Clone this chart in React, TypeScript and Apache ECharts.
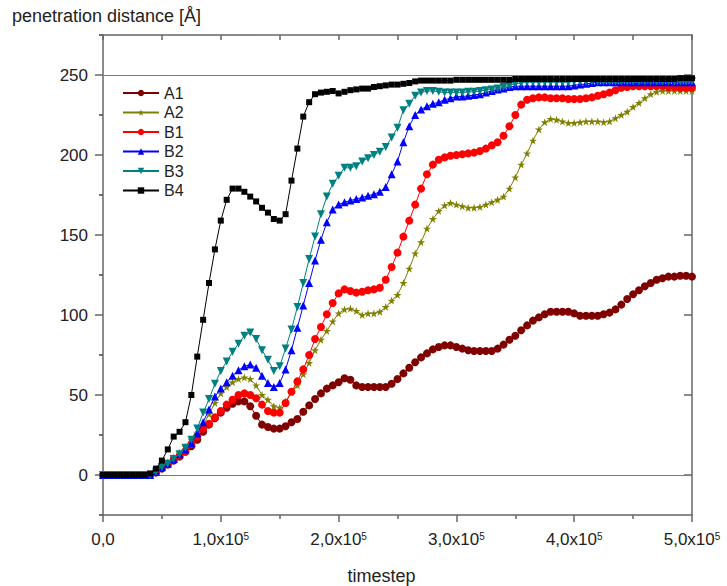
import React, { useEffect, useRef } from 'react';
import * as echarts from 'echarts';

// timestep spacing between consecutive samples (x = index * spacing)
const TIMESTEP_SPACING = 5000;

const SERIES_NAMES = ['A1', 'A2', 'B1', 'B2', 'B3', 'B4'];

const A1 = [
  0, 0, 0, 0, 0, 0, 0, 0, 0, 1.5,
  4, 6.5, 9, 11.5, 14.5, 18, 22, 27, 31.5, 35.5,
  39, 42, 44.5, 46, 46, 43, 37, 31.5, 30, 29,
  29, 30.5, 33, 35, 39.5, 43.5, 47.5, 51, 54, 56,
  58, 60.5, 59.5, 56, 55, 55, 55, 55, 55, 57,
  60, 63.5, 67, 70.5, 73.5, 76, 78.5, 80, 81, 81,
  80, 79, 78, 77.5, 77.5, 77.5, 77.5, 79, 81.5, 84.5,
  87, 90.5, 93.5, 96.5, 98.5, 100.5, 102, 102, 102, 102,
  101, 99.5, 99.5, 99.5, 99.5, 100.5, 101.5, 103.5, 106.5, 110,
  113, 115.5, 118, 120, 122, 123, 124, 124, 124.5, 124.5,
  124,
];

const A2 = [
  0, 0, 0, 0, 0, 0, 0, 0, 0, 2,
  5, 8, 11, 14, 17.5, 22, 26, 31, 38, 45,
  51, 55, 58, 60, 61, 60, 56, 50, 47, 43,
  42, 46, 52, 56, 63, 70, 78, 84.5, 90, 96,
  101, 103.5, 104, 102.5, 100, 101, 101, 102, 105, 109,
  112.5, 120, 129, 138.5, 145.5, 154, 160, 165, 168.5, 170,
  169, 168, 167, 167, 167.5, 169, 170.5, 172, 174, 179,
  186, 194, 201, 209, 216, 220.5, 222.5, 222, 221, 220,
  220, 220.5, 221, 221, 221, 220.5, 221, 223, 225, 227,
  230, 232.5, 235.5, 238, 239.5, 240, 240, 240, 240, 240,
  240,
];

const B1 = [
  0, 0, 0, 0, 0, 0, 0, 0, 0, 2,
  5, 7, 10, 12, 15, 19.5, 24, 29, 32, 36,
  40, 44, 47, 50, 51, 50, 48, 44, 40, 39,
  39, 45, 52, 58.5, 66, 75, 85, 92.5, 100.5, 107.5,
  113.5, 116, 115, 114, 114.5, 115.5, 116, 117, 122, 130,
  139, 149, 159, 169, 179, 188, 194, 197, 198.5, 199.5,
  200, 200.5, 201, 201.5, 202.5, 204, 206, 208, 212, 218,
  225, 231.5, 234.5, 235.5, 236, 236, 235.5, 235.5, 235.5, 235,
  235, 235, 235.5, 236, 237, 238, 239, 240.5, 242, 242.5,
  243, 243, 243, 243, 243, 243, 242.5, 242.5, 242, 242,
  242,
];

const B2 = [
  0, 0, 0, 0, 0, 0, 0, 0, 0, 2,
  5, 7, 10, 13, 16, 20, 26, 33, 41, 49,
  54, 58, 62, 65.5, 68, 69, 67, 62, 57.5, 55,
  57.5, 66, 78, 92, 106, 120, 134, 147, 158, 166,
  169, 170.5, 171.5, 172.5, 173.5, 174.5, 175.5, 177, 180, 188,
  196, 208, 218, 225, 228.5, 230.5, 232, 233, 234.5, 235.5,
  236.5, 236.5, 237, 237.5, 238, 239, 240, 241, 241.5, 242.5,
  243, 243, 243, 243, 243, 243, 243, 243, 243, 243,
  243.5, 244, 244.5, 245, 245.5, 245.5, 245.5, 245.5, 245.5, 245.5,
  245.5, 245.5, 245.5, 245.5, 245.5, 245.5, 245.5, 245.5, 245.5, 245.5,
  245.5,
];

const B3 = [
  0, 0, 0, 0, 0, 0, 0, 0, 0, 2,
  5, 7, 10, 13, 17, 22, 29, 39, 47.5, 57,
  65, 71, 77, 82, 87, 89, 85, 78, 72, 65,
  68, 79, 91, 105, 120, 135, 149, 163, 174, 182,
  187, 192, 192, 193, 196, 198, 200, 202, 205, 211,
  217, 228, 232, 237, 239, 240, 240, 239.5, 239, 239,
  239, 239, 239.5, 239.5, 240, 240.5, 241, 241.5, 242.5, 243.5,
  244.5, 245, 245.5, 245.5, 245.5, 245.5, 245.5, 245.5, 245.5, 245.5,
  246, 246, 246, 246, 246, 246, 246, 246, 246, 246,
  246, 246, 246, 246, 246, 246, 246, 246, 246, 246,
  246,
];

const B4 = [
  0, 0, 0, 0, 0, 0, 0, 0, 1, 4,
  9, 16, 24, 27, 33, 50, 74, 97, 120, 141,
  159, 172, 179, 179, 177, 174, 171, 167, 164, 160,
  159, 163, 184, 204, 224, 233, 238, 239, 239.5, 240,
  238.5, 239.5, 240.5, 241, 241.5, 241.5, 242.5, 243, 243.5, 244,
  244, 244.5, 245, 246, 246.5, 246.5, 246.5, 246.5, 246.5, 246.5,
  247, 247, 247, 247, 247, 247, 247, 247, 247, 247,
  247.5, 247.5, 247.5, 247.5, 247.5, 247.5, 247.5, 247.5, 247.5, 247.5,
  247.5, 247.5, 247.5, 247.5, 247.5, 247.5, 247.5, 247.5, 247.5, 247.5,
  247.5, 247.5, 247.5, 247.5, 247.5, 247.5, 247.5, 247.5, 248, 248,
  248,
];

const SERIES_VALUES = [A1, A2, B1, B2, B3, B4];

// axis ticks / labels
const X_TICK_VALUES = [0, 100000, 200000, 300000, 400000, 500000];
const X_TICK_MANTISSA = ['0,0', '1,0', '2,0', '3,0', '4,0', '5,0'];
const Y_MAJOR_TICKS = [0, 50, 100, 150, 200, 250];
const Y_MINOR_TICKS = [-25, 25, 75, 125, 175, 225, 275];
const REFERENCE_LINES = [0, 250];

const COLORS = ['#800000', '#808000', '#ff0000', '#0000ff', '#008080', '#000000'];
const STAR = 'path://M50,0 L61.8,35.1 98.6,35.1 68.8,56.8 79.4,91.9 50,70 20.6,91.9 31.2,56.8 1.4,35.1 38.2,35.1 Z';
const DOWN_TRIANGLE = 'path://M0,0 L10,0 L5,9 Z';
const SYMBOLS = ['circle', STAR, 'circle', 'triangle', DOWN_TRIANGLE, 'rect'];
const SYMBOL_SIZES = [8, 8, 8, 8, 8, 6];

const FONT = '"Liberation Sans", Arial, Helvetica, sans-serif';
const AXIS_COLOR = '#666666';
const TEXT_COLOR = '#222222';

export default function App() {
  const ref = useRef<HTMLDivElement>(null);

  useEffect(() => {
    if (!ref.current) return;
    const chart = echarts.init(ref.current, null, { renderer: 'svg' });

    const axisLine = { show: true, onZero: false, lineStyle: { color: AXIS_COLOR, width: 1.5 } };
    const tickStyle = { color: AXIS_COLOR, width: 1.5 };

    const series: any[] = SERIES_NAMES.map((name, k) => ({
      name,
      type: 'line',
      xAxisIndex: 0,
      yAxisIndex: 0,
      data: SERIES_VALUES[k].map((v, i) => [i * TIMESTEP_SPACING, v]),
      symbol: SYMBOLS[k],
      symbolSize: SYMBOL_SIZES[k],
      showSymbol: true,
      showAllSymbol: true,
      lineStyle: { color: COLORS[k], width: 1 },
      itemStyle: { color: COLORS[k] },
      emphasis: { disabled: true },
      z: 3 + k,
    }));
    series[0].markLine = {
      silent: true,
      symbol: ['none', 'none'],
      label: { show: false },
      lineStyle: { color: '#7a7a7a', width: 1, type: 'solid' },
      data: REFERENCE_LINES.map((y) => ({ yAxis: y })),
    };

    const option: any = {
      animation: false,
      backgroundColor: '#ffffff',
      textStyle: { fontFamily: FONT },
      title: {
        text: 'penetration distance [Å]',
        left: 12,
        top: 7,
        padding: 0,
        textStyle: { fontFamily: FONT, fontSize: 18, fontWeight: 'normal', color: TEXT_COLOR },
      },
      legend: {
        orient: 'vertical',
        left: 122,
        top: 85,
        padding: 0,
        itemWidth: 36,
        itemHeight: 8,
        itemGap: 3.5,
        data: SERIES_NAMES,
        selectedMode: false,
        textStyle: { fontFamily: FONT, fontSize: 16, color: TEXT_COLOR, lineHeight: 16 },
      },
      grid: { left: 103, right: 35, top: 35, bottom: 71, containLabel: false, outerBoundsMode: 'none' },
      xAxis: [
        {
          type: 'value',
          position: 'bottom',
          min: 0,
          max: 500000,
          interval: 100000,
          axisLine,
          axisTick: { show: true, inside: false, length: 7, lineStyle: tickStyle },
          minorTick: { show: true, splitNumber: 2, length: 4, lineStyle: tickStyle },
          splitLine: { show: false },
          minorSplitLine: { show: false },
          axisLabel: {
            show: true,
            margin: 16,
            showMinLabel: true,
            showMaxLabel: true,
            hideOverlap: false,
            formatter: (v: number) => {
              const idx = X_TICK_VALUES.indexOf(v);
              if (idx < 0) return '';
              if (v === 0) return '{n|' + X_TICK_MANTISSA[idx] + '}';
              return '{n|' + X_TICK_MANTISSA[idx] + 'x10}{s|5}';
            },
            rich: {
              n: { fontFamily: FONT, fontSize: 17, color: TEXT_COLOR, lineHeight: 17, verticalAlign: 'bottom' },
              s: { fontFamily: FONT, fontSize: 10, color: TEXT_COLOR, lineHeight: 10, verticalAlign: 'top' },
            },
          },
          name: 'timestep',
          nameLocation: 'middle',
          nameGap: 52,
          nameTextStyle: { fontFamily: FONT, fontSize: 18, color: TEXT_COLOR, padding: [0, 32, 0, 0] },
        },
        {
          type: 'value',
          position: 'top',
          min: 0,
          max: 500000,
          interval: 50000,
          axisLine,
          axisTick: { show: true, inside: true, length: 5, lineStyle: tickStyle },
          axisLabel: { show: false },
          splitLine: { show: false },
        },
      ],
      yAxis: [
        {
          type: 'value',
          position: 'left',
          offset: 0,
          min: -25,
          max: 275,
          interval: 25,
          axisLine,
          axisTick: { show: true, inside: false, length: 8, lineStyle: tickStyle, customValues: Y_MAJOR_TICKS },
          axisLabel: {
            show: true,
            customValues: Y_MAJOR_TICKS,
            margin: 15,
            fontFamily: FONT,
            fontSize: 17,
            color: TEXT_COLOR,
          },
          splitLine: { show: false },
        },
        {
          type: 'value',
          position: 'left',
          offset: 0,
          min: -25,
          max: 275,
          interval: 25,
          axisLine: { show: false },
          axisTick: { show: true, inside: false, length: 4, lineStyle: tickStyle, customValues: Y_MINOR_TICKS },
          axisLabel: { show: false },
          splitLine: { show: false },
        },
        {
          type: 'value',
          position: 'right',
          offset: 0,
          min: -25,
          max: 275,
          interval: 25,
          axisLine,
          axisTick: { show: true, inside: true, length: 8, lineStyle: tickStyle, customValues: Y_MAJOR_TICKS },
          axisLabel: { show: false },
          splitLine: { show: false },
        },
        {
          type: 'value',
          position: 'right',
          offset: 0,
          min: -25,
          max: 275,
          interval: 25,
          axisLine: { show: false },
          axisTick: { show: true, inside: true, length: 4, lineStyle: tickStyle, customValues: Y_MINOR_TICKS },
          axisLabel: { show: false },
          splitLine: { show: false },
        },
      ],
      series,
    };

    chart.setOption(option);
    return () => chart.dispose();
  }, []);

  return (
    <div
      ref={ref}
      style={{ position: 'fixed', left: 0, top: 0, width: 727, height: 586, background: '#ffffff' }}
    />
  );
}
